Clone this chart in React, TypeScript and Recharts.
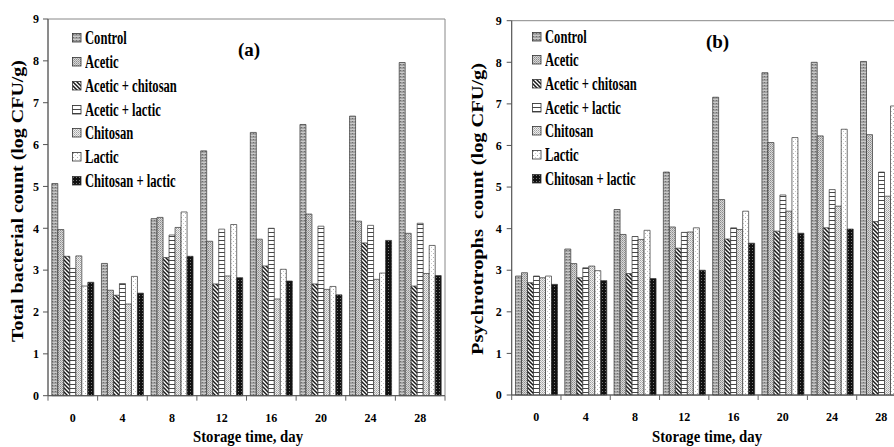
import React from 'react';
import { BarChart, Bar, XAxis, YAxis, ReferenceArea, Legend } from 'recharts';

// ---------- data ----------
const days = ['0', '4', '8', '12', '16', '20', '24', '28'];
const seriesNames = ['Control', 'Acetic', 'Acetic + chitosan', 'Acetic + lactic', 'Chitosan', 'Lactic', 'Chitosan + lactic'];
const yTicks = [0, 1, 2, 3, 4, 5, 6, 7, 8, 9];

// Panel (a) Total bacterial count
const controlA = [5.07, 3.16, 4.23, 5.85, 6.29, 6.48, 6.68, 7.96];
const aceticA = [3.97, 2.52, 4.26, 3.69, 3.74, 4.34, 4.17, 3.88];
const aceticChitosanA = [3.33, 2.4, 3.3, 2.67, 3.1, 2.67, 3.65, 2.62];
const aceticLacticA = [3.04, 2.68, 3.84, 3.98, 4.0, 4.05, 4.07, 4.12];
const chitosanA = [3.34, 2.19, 4.02, 2.86, 2.31, 2.54, 2.78, 2.92];
const lacticA = [2.62, 2.85, 4.39, 4.09, 3.02, 2.61, 2.93, 3.59];
const chitosanLacticA = [2.71, 2.45, 3.33, 2.82, 2.74, 2.41, 3.71, 2.87];

// Panel (b) Psychrotrophs count
const controlB = [2.86, 3.51, 4.46, 5.36, 7.16, 7.75, 8.0, 8.02];
const aceticB = [2.94, 3.16, 3.86, 4.04, 4.7, 6.07, 6.23, 6.26];
const aceticChitosanB = [2.7, 2.82, 2.92, 3.53, 3.75, 3.94, 4.02, 4.17];
const aceticLacticB = [2.86, 3.06, 3.81, 3.91, 4.02, 4.81, 4.94, 5.36];
const chitosanB = [2.82, 3.1, 3.74, 3.92, 3.98, 4.42, 4.54, 4.78];
const lacticB = [2.86, 2.99, 3.96, 4.02, 4.42, 6.19, 6.39, 6.95];
const chitosanLacticB = [2.66, 2.75, 2.8, 3.0, 3.65, 3.89, 3.99, 4.1];

const seriesA = [controlA, aceticA, aceticChitosanA, aceticLacticA, chitosanA, lacticA, chitosanLacticA];
const seriesB = [controlB, aceticB, aceticChitosanB, aceticLacticB, chitosanB, lacticB, chitosanLacticB];

const patternIds = ['pControl', 'pAcetic', 'pAC', 'pAL', 'pChit', 'pLactic', 'pCL'];

const buildRows = (series: number[][]) =>
  days.map((d, i) => {
    const row: Record<string, any> = { day: d };
    series.forEach((s, k) => {
      row['s' + k] = s[i];
    });
    return row;
  });

const dataA = buildRows(seriesA);
const dataB = buildRows(seriesB);

const FONT = "'Liberation Serif', 'Times New Roman', serif";

const Patterns = () => (
  <svg width={0} height={0} style={{ position: 'absolute' }}>
    <defs>
      <pattern id="pControl" width={3} height={3} patternUnits="userSpaceOnUse">
        <rect width={3} height={3} fill="#a2a2a2" />
        <rect x={0} y={0} width={3} height={1} fill="#c9c9c9" />
        <rect x={1} y={1} width={1} height={1} fill="#6f6f6f" />
      </pattern>
      <pattern id="pAcetic" width={2} height={2} patternUnits="userSpaceOnUse">
        <rect width={2} height={2} fill="#d8d8d8" />
        <rect x={0} y={0} width={1} height={1} fill="#8c8c8c" />
        <rect x={1} y={1} width={1} height={1} fill="#a8a8a8" />
      </pattern>
      <pattern id="pAC" width={4} height={4} patternUnits="userSpaceOnUse">
        <rect width={4} height={4} fill="#ffffff" />
        <path d="M-1,-1 L5,5 M-1,3 L1,5 M3,-1 L5,1" stroke="#1a1a1a" strokeWidth={1.5} />
      </pattern>
      <pattern id="pAL" width={6} height={4} patternUnits="userSpaceOnUse">
        <rect width={6} height={4} fill="#ffffff" />
        <path d="M0,0.5 L6,0.5" stroke="#333" strokeWidth={0.9} />
      </pattern>
      <pattern id="pChit" width={2} height={2} patternUnits="userSpaceOnUse">
        <rect width={2} height={2} fill="#eeeeee" />
        <rect x={0} y={0} width={1} height={1} fill="#a0a0a0" />
        <rect x={1} y={1} width={1} height={1} fill="#bbbbbb" />
      </pattern>
      <pattern id="pLactic" width={4} height={4} patternUnits="userSpaceOnUse">
        <rect width={4} height={4} fill="#ffffff" />
        <rect x={1} y={1} width={1} height={1} fill="#b0b0b0" />
        <rect x={3} y={3} width={1} height={1} fill="#c8c8c8" />
      </pattern>
      <pattern id="pCL" width={3} height={3} patternUnits="userSpaceOnUse">
        <rect width={3} height={3} fill="#111111" />
        <rect x={1} y={1} width={1} height={1} fill="#777777" />
      </pattern>
    </defs>
  </svg>
);

const makeXTick = (band: number, lastIdx: number) => (props: any) => {
  const { x, y, payload, index } = props;
  const axisY = y - 5;
  return (
    <g>
      <line x1={x - band / 2} x2={x - band / 2} y1={axisY} y2={axisY + 5} stroke="#666" strokeWidth={1} />
      {index === lastIdx ? (
        <line x1={x + band / 2} x2={x + band / 2} y1={axisY} y2={axisY + 5} stroke="#666" strokeWidth={1} />
      ) : null}
      <text x={x} y={axisY + 26} textAnchor="middle" fontFamily={FONT} fontWeight="bold" fontSize={12} fill="#000">
        {payload.value}
      </text>
    </g>
  );
};

const makeLegend = (left: number, top: number, rowH: number) => (props: any) => {
  const items = [...(props.payload || [])].sort(
    (a: any, b: any) => seriesNames.indexOf(a.value) - seriesNames.indexOf(b.value)
  );
  return (
    <div style={{ position: 'absolute', left, top, margin: 0, padding: 0 }}>
      {items.map((p: any) => {
        const idx = seriesNames.indexOf(p.value);
        return (
          <div key={p.value} style={{ height: rowH, display: 'flex', alignItems: 'center', whiteSpace: 'nowrap' }}>
            <svg width={10} height={10} style={{ display: 'block', flex: 'none' }}>
              <rect x={0.5} y={0.5} width={8.5} height={8.5} fill={`url(#${patternIds[idx]})`} stroke="#333" strokeWidth={0.8} />
            </svg>
            <span
              style={{
                display: 'inline-block',
                marginLeft: 3,
                fontFamily: FONT,
                fontWeight: 'bold',
                fontSize: 18,
                color: '#000',
                transform: 'scaleX(0.7)',
                transformOrigin: 'left center',
                lineHeight: 1,
              }}
            >
              {p.value}
            </span>
          </div>
        );
      })}
    </div>
  );
};

type PanelProps = {
  data: any[];
  width: number;
  margin: { top: number; right: number; bottom: number; left: number };
  band: number;
  legendLeft: number;
  legendTop: number;
  rowH: number;
  tickMargin: number;
};

const Panel = ({ data, width, margin, band, legendLeft, legendTop, rowH, tickMargin }: PanelProps) => (
  <BarChart width={width} height={447} data={data} margin={margin} barCategoryGap="7.7%" barGap={0}>
    <XAxis
      dataKey="day"
      height={30}
      tickLine={false}
      tickSize={5}
      tickMargin={0}
      axisLine={{ stroke: '#555' }}
      tick={makeXTick(band, days.length - 1)}
      interval={0}
    />
    <YAxis
      width={40}
      domain={[0, 9]}
      ticks={yTicks}
      interval={0}
      axisLine={{ stroke: '#555' }}
      tickLine={{ stroke: '#555' }}
      tickSize={5}
      tickMargin={tickMargin}
      tick={{ fontFamily: FONT, fontWeight: 'bold', fontSize: 12, fill: '#000' }}
    />
    <ReferenceArea y1={0} y2={9} fill="none" stroke="#888" strokeWidth={1} ifOverflow="visible" />
    {seriesNames.map((name, k) => (
      <Bar
        key={name}
        dataKey={'s' + k}
        name={name}
        fill={`url(#${patternIds[k]})`}
        stroke="#333"
        strokeWidth={0.7}
        isAnimationActive={false}
      />
    ))}
    <Legend
      layout="vertical"
      align="center"
      verticalAlign="middle"
      itemSorter={null as any}
      wrapperStyle={{ left: 0, top: 0, width: 0, height: 0 }}
      content={makeLegend(legendLeft, legendTop, rowH)}
    />
  </BarChart>
);

const Titles = () => (
  <svg width={894} height={447} style={{ position: 'absolute', left: 0, top: 0, pointerEvents: 'none' }}>
    <g fontFamily={FONT} fontWeight="bold" fill="#000">
      <text
        transform="translate(17.5,201) rotate(-90)"
        textAnchor="middle"
        dominantBaseline="central"
        fontSize={17}
        textLength={282}
        lengthAdjust="spacingAndGlyphs"
      >
        Total bacterial count (log CFU/g)
      </text>
      <text
        transform="translate(477,209) rotate(-90)"
        textAnchor="middle"
        dominantBaseline="central"
        fontSize={17}
        textLength={292}
        lengthAdjust="spacingAndGlyphs"
        style={{ whiteSpace: 'pre' }}
      >
        {'Psychrotrophs  count (log CFU/g)'}
      </text>
      <text x={248} y={442} textAnchor="middle" fontSize={16} textLength={110} lengthAdjust="spacingAndGlyphs">
        Storage time, day
      </text>
      <text x={707} y={442} textAnchor="middle" fontSize={16} textLength={110} lengthAdjust="spacingAndGlyphs">
        Storage time, day
      </text>
      <text x={249} y={56} textAnchor="middle" fontSize={19}>
        (a)
      </text>
      <text x={717.5} y={48} textAnchor="middle" fontSize={19}>
        (b)
      </text>
    </g>
  </svg>
);

export default function App() {
  return (
    <div
      style={{
        position: 'absolute',
        left: 0,
        top: 0,
        width: 894,
        height: 447,
        overflow: 'hidden',
        background: '#ffffff',
      }}
    >
      <Patterns />
      <div style={{ position: 'absolute', left: 0, top: 0 }}>
        <Panel
          data={dataA}
          width={460}
          margin={{ top: 19, right: 15, bottom: 21.3, left: 8 }}
          band={397 / 8}
          legendLeft={72}
          legendTop={26.4}
          rowH={23.8}
          tickMargin={4}
        />
      </div>
      <div style={{ position: 'absolute', left: 460, top: 0 }}>
        <Panel
          data={dataB}
          width={460}
          margin={{ top: 20.7, right: 14, bottom: 22, left: 11.7 }}
          band={394.4 / 8}
          legendLeft={71.5}
          legendTop={24.8}
          rowH={23.7}
          tickMargin={5}
        />
      </div>
      <Titles />
    </div>
  );
}
